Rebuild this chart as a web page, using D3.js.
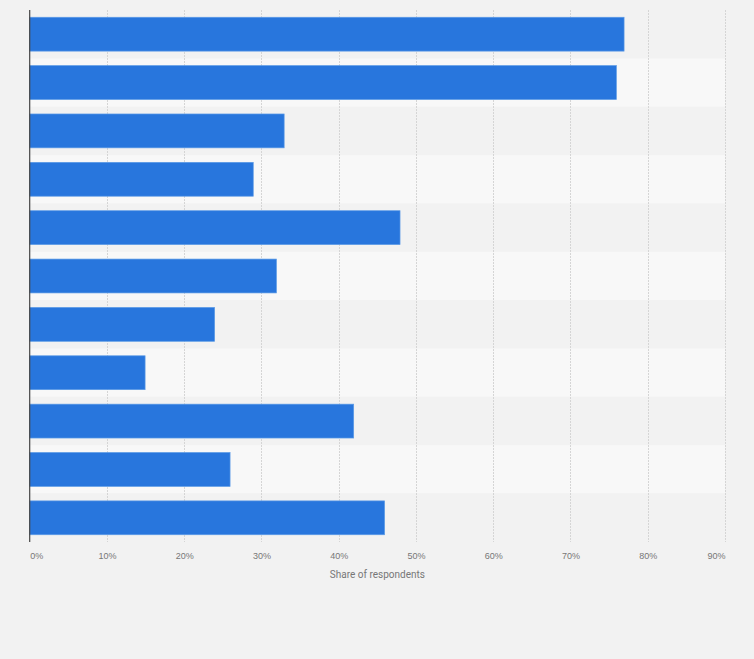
<!DOCTYPE html>
<html>
<head>
<meta charset="utf-8">
<script src="https://cdn.jsdelivr.net/npm/d3@7"></script>
<style>
  html, body { margin: 0; padding: 0; background: #f2f2f2; }
  svg { display: block; font-family: Roboto, "Liberation Sans", Arial, sans-serif; }
</style>
</head>
<body>
<svg class="chart"></svg>
<script>
// categories are not labelled in the picture, so generic keys are used
var categories = ["Item 1", "Item 2", "Item 3", "Item 4", "Item 5", "Item 6",
  "Item 7", "Item 8", "Item 9", "Item 10", "Item 11"];
var shares = [77, 76, 33, 29, 48, 32, 24, 15, 42, 26, 46];
var tickValues = [0, 10, 20, 30, 40, 50, 60, 70, 80, 90];
var axisTitle = "Share of respondents";

var width = 754;
var height = 659;
var margin = { top: 10, right: 29, bottom: 117, left: 29.7 };

var svg = d3.select(".chart").attr("width", width).attr("height", height);

var x = d3.scaleLinear()
  .domain([0, 90])
  .range([margin.left, width - margin.right]);

var y = d3.scaleBand()
  .domain(categories)
  .range([margin.top, height - margin.bottom])
  .paddingInner(0.3)
  .paddingOuter(0.15);

var rowStart = function (c) { return y(c) - y.step() * y.paddingInner() / 2; };

// alternating row stripes
svg.append("g")
  .selectAll("rect")
  .data(categories)
  .join("rect")
  .attr("x", x(0))
  .attr("y", rowStart)
  .attr("width", x(90) - x(0))
  .attr("height", y.step())
  .attr("fill", function (d, i) { return i % 2 ? "#f8f8f8" : "#f2f2f2"; });

// vertical grid
svg.append("g")
  .selectAll("line")
  .data(tickValues.slice(1))
  .join("line")
  .attr("x1", function (d) { return Math.round(x(d)) + 0.5; })
  .attr("x2", function (d) { return Math.round(x(d)) + 0.5; })
  .attr("y1", margin.top)
  .attr("y2", height - margin.bottom)
  .attr("stroke", "#d5d5d5")
  .attr("stroke-width", 1)
  .attr("stroke-dasharray", "2,1");

// bars
svg.append("g")
  .selectAll("rect")
  .data(shares)
  .join("rect")
  .attr("x", x(0))
  .attr("y", function (d, i) { return y(categories[i]); })
  .attr("width", function (d) { return x(d) - x(0) - 0.5; })
  .attr("height", y.bandwidth())
  .attr("fill", "#2876dd")
  .attr("stroke", "#5b9ae6")
  .attr("stroke-width", 0.7);

// left axis line
svg.append("line")
  .attr("x1", x(0))
  .attr("x2", x(0))
  .attr("y1", margin.top)
  .attr("y2", height - margin.bottom)
  .attr("stroke", "#444")
  .attr("stroke-width", 1.2);

// bottom axis labels
var xAxis = svg.append("g")
  .attr("transform", "translate(0," + (height - margin.bottom) + ")")
  .call(d3.axisBottom(x).tickValues(tickValues).tickSize(0).tickPadding(11)
    .tickFormat(function (d) { return d + "%"; }));

xAxis.select(".domain").remove();
xAxis.selectAll("text")
  .attr("fill", "#777")
  .style("font-size", "9px")
  .attr("text-anchor", function (d, i) {
    return i === 0 ? "start" : i === tickValues.length - 1 ? "end" : "middle";
  });

svg.append("text")
  .attr("x", (x(0) + x(90)) / 2)
  .attr("y", height - margin.bottom + 36)
  .attr("text-anchor", "middle")
  .attr("fill", "#777")
  .style("font-size", "10px")
  .text(axisTitle);
</script>
</body>
</html>
